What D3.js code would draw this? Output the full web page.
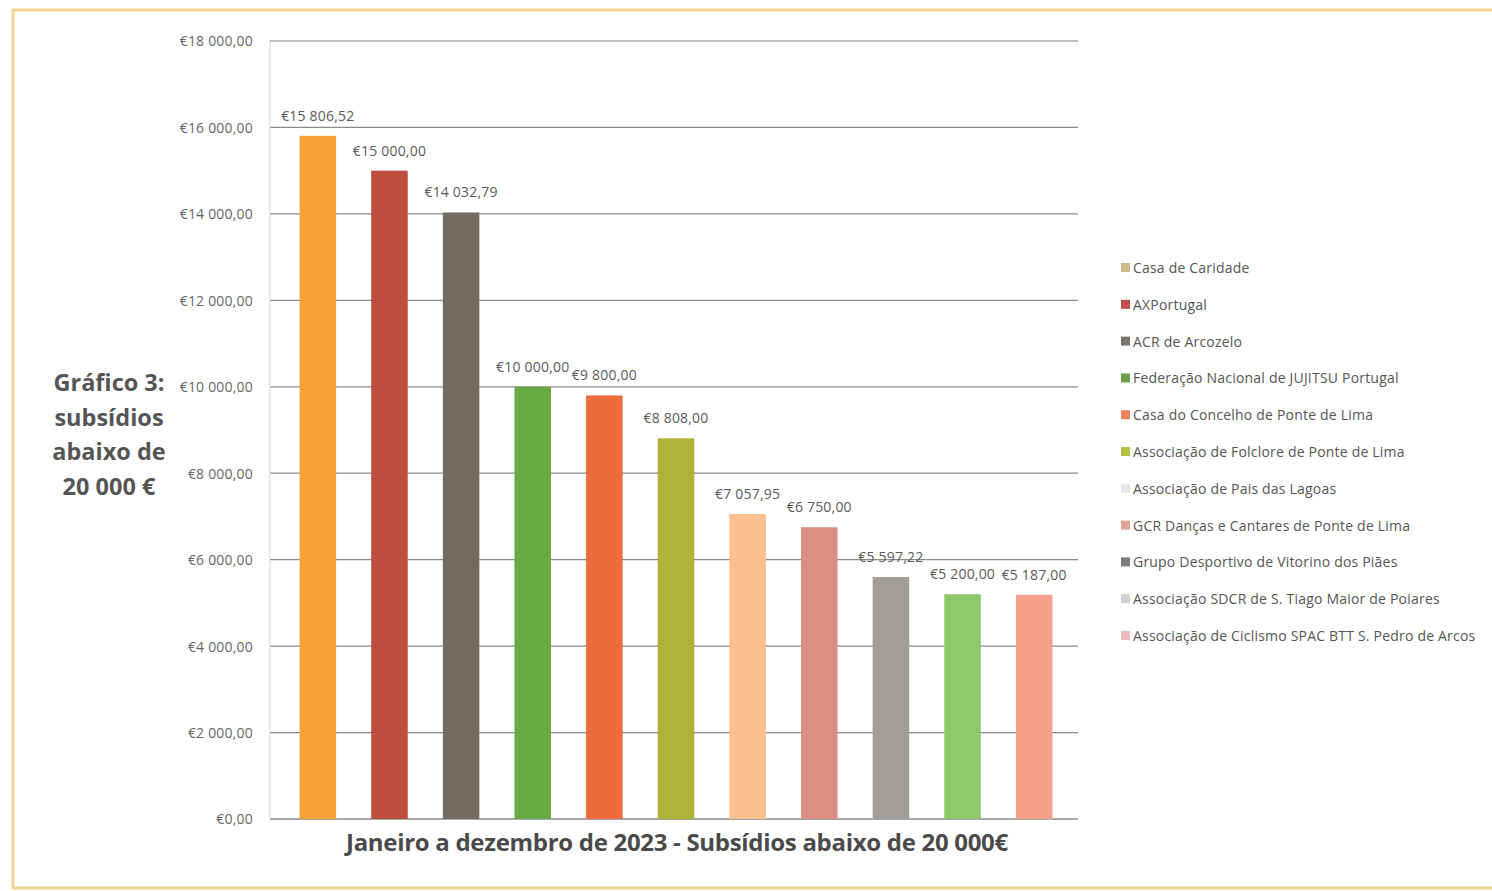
<!DOCTYPE html>
<html><head><meta charset="utf-8">
<script src="https://cdn.jsdelivr.net/npm/d3@7/dist/d3.min.js"></script>
<style>
html,body{margin:0;padding:0;background:#fff;}
svg{display:block;}
</style></head>
<body>
<svg id="chart" width="1492" height="891"></svg>
<script>
const categories = [
  "Casa de Caridade",
  "AXPortugal",
  "ACR de Arcozelo",
  "Federação Nacional de JUJITSU Portugal",
  "Casa do Concelho de Ponte de Lima",
  "Associação de Folclore de Ponte de Lima",
  "Associação de Pais das Lagoas",
  "GCR Danças e Cantares de Ponte de Lima",
  "Grupo Desportivo de Vitorino dos Piães",
  "Associação SDCR de S. Tiago Maior de Poiares",
  "Associação de Ciclismo SPAC BTT S. Pedro de Arcos"
];
const values = [15806.52, 15000, 14032.79, 10000, 9800, 8808, 7057.95, 6750, 5597.22, 5200, 5187];
const colors = ["#F3A236", "#BE4D40", "#746B5D", "#68AB42", "#EE6B3E", "#AFB236", "#FBC08E", "#DB8D83", "#A19E99", "#8DC96B", "#F4A08B"];
const legendColors = ["#CDBD8E", "#C0504D", "#7A7772", "#6AA04C", "#E8855A", "#B7C244", "#E6E6E6", "#E0A39A", "#7E7C7A", "#D0D0D0", "#EDB8C0"];
const yTicks = [0, 2000, 4000, 6000, 8000, 10000, 12000, 14000, 16000, 18000];
const titleLines = ["Gráfico 3:", "subsídios", "abaixo de", "20 000 €"];
const xTitle = "Janeiro a dezembro de 2023 - Subsídios abaixo de 20 000€";

const svg = d3.select("#chart");
const fmt = v => {
  const [i, d] = v.toFixed(2).split(".");
  return "€" + i.replace(/\B(?=(\d{3})+(?!\d))/g, " ") + "," + d;
};

// frame
svg.append("rect").attr("x", 13).attr("y", 10).attr("width", 1500).attr("height", 878)
  .attr("fill", "none").attr("stroke", "#F1D394").attr("stroke-width", 3);

const plotL = 270, plotR = 1078, y0 = 819, yTop = 41;
const y = d3.scaleLinear().domain([0, 18000]).range([y0, yTop]);
const x = d3.scaleBand().domain(categories).range([282, 1070]).paddingInner(0.49).paddingOuter(0.245);

// gridlines
svg.append("g").selectAll("line").data(yTicks).join("line")
  .attr("x1", plotL).attr("x2", plotR)
  .attr("y1", d => y(d)).attr("y2", d => y(d))
  .attr("stroke", d => d === 18000 ? "#A8A8A8" : "#8A8A8A").attr("stroke-width", 1.3);
// left axis line
svg.append("line").attr("x1", plotL).attr("x2", plotL).attr("y1", yTop).attr("y2", y0)
  .attr("stroke", "#D6D6D6").attr("stroke-width", 1);

// y tick labels
const yAxis = d3.axisLeft(y).tickValues(yTicks).tickFormat(fmt).tickSize(0).tickPadding(17);
const ga = svg.append("g").attr("transform", `translate(${plotL},0)`).call(yAxis);
ga.select(".domain").remove();
ga.selectAll("text").attr("font-family", "Open Sans, sans-serif").attr("font-size", 14)
  .attr("fill", "#666").attr("dy", "0.35em").attr("letter-spacing", "0.2");

// bars
svg.append("g").selectAll("rect").data(values).join("rect")
  .attr("x", (d, i) => x(categories[i]))
  .attr("width", x.bandwidth())
  .attr("y", d => y(d))
  .attr("height", d => y0 - y(d))
  .attr("fill", (d, i) => colors[i]);

// value labels
svg.append("g").selectAll("text").data(values).join("text")
  .attr("x", (d, i) => x(categories[i]) + x.bandwidth() / 2)
  .attr("y", d => y(d) - 15)
  .attr("text-anchor", "middle")
  .attr("font-family", "Open Sans, sans-serif").attr("font-size", 14)
  .attr("letter-spacing", "0.2")
  .attr("fill", "#5A5A5A")
  .text(d => fmt(d));

// legend
const lg = svg.append("g").selectAll("g").data(categories).join("g")
  .attr("transform", (d, i) => `translate(1121, ${268 + i * 36.8})`);
lg.append("rect").attr("x", 0).attr("y", -5).attr("width", 9).attr("height", 9)
  .attr("fill", (d, i) => legendColors[i]);
lg.append("text").attr("x", 12).attr("y", 0).attr("dy", "0.35em")
  .attr("font-family", "Open Sans, sans-serif").attr("font-size", 14)
  .attr("letter-spacing", "0.2")
  .attr("fill", "#555").text(d => d);

// left title
svg.append("g").selectAll("text").data(titleLines).join("text")
  .attr("x", 109).attr("y", (d, i) => 383 + i * 34.5).attr("dy", "0.35em")
  .attr("text-anchor", "middle")
  .attr("font-family", "Open Sans, sans-serif").attr("font-weight", "bold").attr("font-size", 23.5)
  .attr("fill", "#555").text(d => d);

// x title
svg.append("text").attr("x", 677).attr("y", 843).attr("dy", "0.35em")
  .attr("text-anchor", "middle")
  .attr("font-family", "Open Sans, sans-serif").attr("font-weight", "bold").attr("font-size", 24)
  .attr("letter-spacing", "-0.3")
  .attr("fill", "#4A4A4A").text(xTitle);
</script>
</body></html>
